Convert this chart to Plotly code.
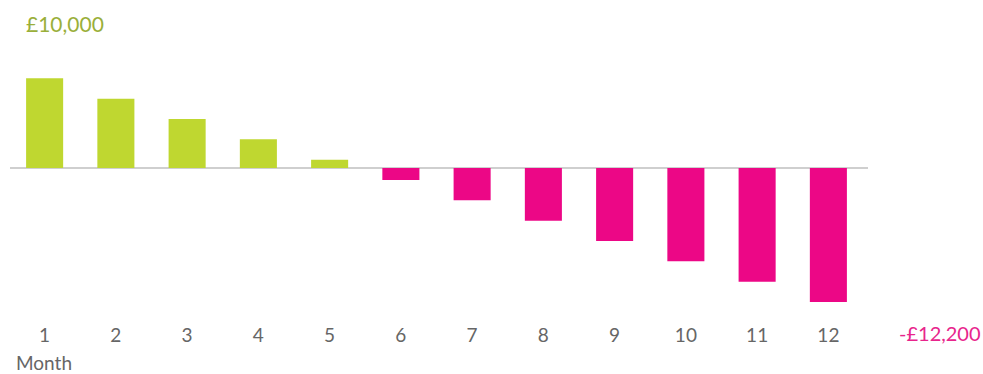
import plotly.graph_objects as go

months = [1, 2, 3, 4, 5, 6, 7, 8, 9, 10, 11, 12]
balance = [8150, 6300, 4450, 2600, 750, -1100, -2950, -4800, -6650, -8500, -10350, -12200]
y_max_label = "£10,000"
y_min_label = "-£12,200"
y_max = 10000
y_min = -12200

GREEN = "#BFD730"
PINK = "#EC0786"
colors = [GREEN if v >= 0 else PINK for v in balance]

L, R = 9, 119
PW = 983 - L - R

fig = go.Figure(go.Bar(x=months, y=balance, marker=dict(color=colors, line=dict(width=0)),
                       width=0.52, hoverinfo="x+y"))

FONT = "Lato, Open Sans, sans-serif"
fig.update_layout(
    width=983, height=374,
    margin=dict(l=L, r=R, t=58, b=72),
    paper_bgcolor="white", plot_bgcolor="white",
    showlegend=False,
    font=dict(family=FONT, color="#666666"),
    xaxis=dict(range=[0.5, 12.5], tickmode="array", tickvals=months,
               ticktext=[str(m) for m in months], showgrid=False, zeroline=False,
               showline=False, ticks="", tickfont=dict(size=19, color="#666666"),
               ticklabelstandoff=20),
    yaxis=dict(range=[y_min, y_max], showgrid=False, showticklabels=False,
               zeroline=False, ticks=""),
    shapes=[dict(type="line", xref="paper", yref="y", x0=(10 - L) / PW, x1=(868 - L) / PW,
                 y0=0, y1=0, line=dict(color="#CFCFCF", width=2), layer="below")],
    annotations=[
        dict(text=y_max_label, xref="paper", yref="paper", x=(24 - L) / PW,
             y=1, yshift=35, xanchor="left", yanchor="middle", showarrow=False,
             font=dict(size=21, color="#9AAF3A", family=FONT)),
        dict(text=y_min_label, xref="paper", yref="paper", x=1, xshift=R,
             y=0, yshift=-31, xanchor="right", yanchor="middle", showarrow=False,
             font=dict(size=20, color="#E8258C", family=FONT)),
        dict(text="Month", xref="paper", yref="paper", x=(14 - L) / PW,
             y=0, yshift=-60, xanchor="left", yanchor="middle", showarrow=False,
             font=dict(size=19, color="#666666", family=FONT)),
    ],
)

fig.write_html("out.html")
